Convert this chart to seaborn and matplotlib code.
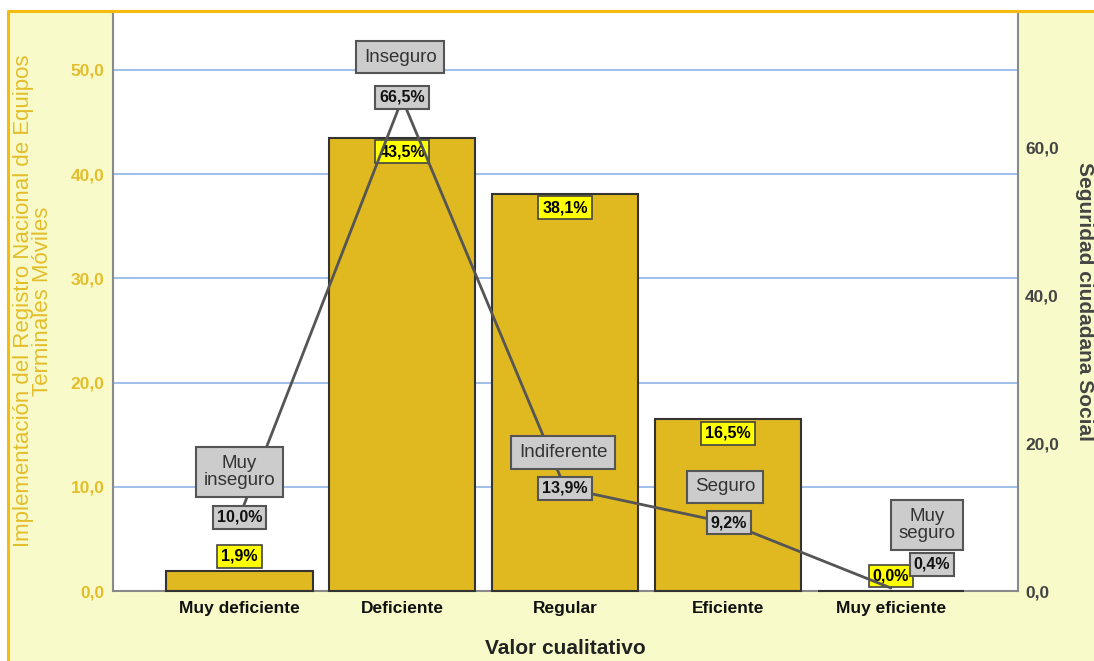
import numpy as np
import pandas as pd
import matplotlib
matplotlib.use("Agg")
import matplotlib.pyplot as plt
import seaborn as sns
from matplotlib.ticker import FuncFormatter, FixedLocator
from matplotlib.patches import Rectangle
from matplotlib.lines import Line2D

# Data
categorias = ["Muy deficiente", "Deficiente", "Regular", "Eficiente", "Muy eficiente"]
implementacion = [1.9, 43.5, 38.1, 16.5, 0.0]          # bars, left axis (%)
seguridad = [10.0, 66.5, 13.9, 9.2, 0.4]               # line, right axis (%)
niveles_seguridad = ["Muy\ninseguro", "Inseguro", "Indiferente", "Seguro", "Muy\nseguro"]
ticks_izq = [0, 10, 20, 30, 40, 50]
ticks_der = [0, 20, 40, 60]

# label offsets in pixels (value box, category box)
off_valor = [(0, 0), (0, 2), (0, 0), (1, 0), (41, 24)]
off_nivel = [(0, 45), (-2, 42), (-2, 36), (-3, 36), (36, 63)]

GOLD = "#dfb91f"
TICK_GOLD = "#e3bd2a"
PALE = "#f8fbc9"
BORDER = "#f6bb10"
GRID = "#8fb4e6"
DARK = "#444444"

sns.set_theme(style="white")
plt.rcParams["font.family"] = ["Liberation Sans", "DejaVu Sans"]

fmt = FuncFormatter(lambda v, p: f"{v:.1f}".replace(".", ","))

df = pd.DataFrame({"categoria": categorias, "implementacion": implementacion,
                   "seguridad": seguridad})

fig = plt.figure(figsize=(10.94, 6.61), dpi=100)
fig.patch.set_facecolor("white")

# pale yellow frame area with orange top/left border
fig.add_artist(Rectangle((8 / 1094, 0), 1, 1 - 11 / 661, transform=fig.transFigure,
                         facecolor=PALE, edgecolor="none", zorder=-10))
fig.add_artist(Line2D([8 / 1094, 1], [1 - 11 / 661] * 2, transform=fig.transFigure,
                      color=BORDER, lw=2.2))
fig.add_artist(Line2D([8 / 1094] * 2, [0, 1 - 11 / 661], transform=fig.transFigure,
                      color=BORDER, lw=2.2))

ax = fig.add_axes([113 / 1094, 70 / 661, 905 / 1094, 580 / 661])
ax.set_facecolor("white")

sns.barplot(data=df, x="categoria", y="implementacion", color=GOLD, width=0.9,
            edgecolor="#333333", linewidth=1.5, saturation=1, ax=ax)
for p in ax.patches:
    p.set_zorder(3)
    p.set_clip_on(False)
ax.set_xlim(-0.775, 4.78)
ax.set_ylim(0, 55.66)
ax.yaxis.set_major_locator(FixedLocator(ticks_izq))
ax.yaxis.set_major_formatter(fmt)
ax.grid(axis="y", color=GRID, lw=1.2)
ax.set_axisbelow(True)
ax.spines["top"].set_visible(False)
for s in ["left", "right", "bottom"]:
    ax.spines[s].set_color("#8a8a8a")
    ax.spines[s].set_linewidth(1.5)
ax.tick_params(axis="y", colors=TICK_GOLD, length=0, pad=6, labelsize=12.5)
ax.tick_params(axis="x", colors="#111111", length=0, pad=7, labelsize=12.5)
for t in ax.get_yticklabels() + ax.get_xticklabels():
    t.set_fontweight("bold")
ax.set_ylabel("Implementación del Registro Nacional de Equipos\nTerminales Móviles",
              color=TICK_GOLD, fontsize=16, linespacing=0.88)
ax.yaxis.label.set_va("center")
ax.yaxis.set_label_coords(-0.088, 0.5)
ax.set_xlabel("Valor cualitativo", fontsize=15, fontweight="bold", color="#222222")
ax.xaxis.label.set_va("center")
ax.xaxis.set_label_coords(0.5, -0.1)

# bar value labels (yellow boxes)
for i, v in enumerate(implementacion):
    dy = -14 if v > 5 else 15
    ax.annotate(f"{v:.1f}%".replace(".", ","), (i, v), xytext=(0, dy),
                textcoords="offset pixels", ha="center", va="center",
                fontsize=11.5, fontweight="bold", color="black", zorder=4,
                bbox=dict(boxstyle="square,pad=0.25", fc="#ffff00", ec="#444444", lw=1.2))

# line on right axis
ax2 = ax.twinx()
ax2.set_position(ax.get_position())
ax2.patch.set_visible(False)
sns.lineplot(x=np.arange(len(categorias)), y=seguridad, color="#555555", lw=2,
             ax=ax2, sort=False)
ax2.set_ylim(0, 78.4)
ax2.set_xlim(-0.775, 4.78)
ax2.yaxis.set_major_locator(FixedLocator(ticks_der))
ax2.yaxis.set_major_formatter(fmt)
ax2.tick_params(axis="y", colors=DARK, length=0, pad=5, labelsize=12.5)
for t in ax2.get_yticklabels():
    t.set_fontweight("bold")
for s in ax2.spines.values():
    s.set_visible(False)
ax2.set_ylabel("Seguridad ciudadana Social", rotation=270, color=DARK, fontsize=15,
               fontweight="bold")
ax2.yaxis.label.set_va("center")
ax2.yaxis.set_label_coords(1.074, 0.5)

for i, v in enumerate(seguridad):
    ax2.annotate(niveles_seguridad[i], (i, v), xytext=off_nivel[i],
                 textcoords="offset pixels", ha="center", va="center",
                 fontsize=13.5, color="#333333", linespacing=0.95,
                 bbox=dict(boxstyle="square,pad=0.42", fc="#cccccc", ec="#555555", lw=1.5))
    ax2.annotate(f"{v:.1f}%".replace(".", ","), (i, v), xytext=off_valor[i],
                 textcoords="offset pixels", ha="center", va="center",
                 fontsize=11.5, fontweight="bold", color="#111111",
                 bbox=dict(boxstyle="square,pad=0.25", fc="#cccccc", ec="#555555", lw=1.5))

fig.savefig("out.png", dpi=100, facecolor=fig.get_facecolor())
